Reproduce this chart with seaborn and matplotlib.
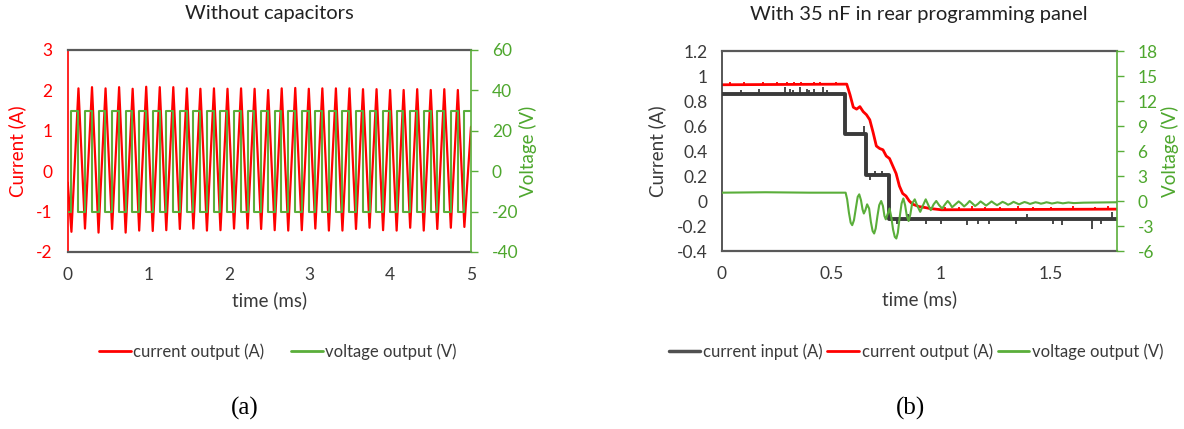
import numpy as np
import pandas as pd
import matplotlib
matplotlib.use("Agg")
import matplotlib.pyplot as plt
from matplotlib.lines import Line2D
from matplotlib.ticker import FuncFormatter
import seaborn as sns

sns.set_style("white")
plt.rcParams['font.family'] = ['Lato', 'DejaVu Sans']
plt.rcParams['axes.unicode_minus'] = False

RED = "#FF0000"
GREEN = "#4EA72E"
GREEN_LINE = "#5AAE3A"
DARK = "#3A3A3A"
FRAME = "#595959"

# ---------------- (a) without capacitors ----------------
# square-wave voltage edges (ms)
v_rise = [0.046, 0.214, 0.382, 0.550, 0.718, 0.886, 1.054, 1.222, 1.390, 1.558,
          1.726, 1.894, 2.062, 2.230, 2.398, 2.566, 2.734, 2.902, 3.070, 3.238,
          3.406, 3.574, 3.742, 3.910, 4.078, 4.246, 4.414, 4.582, 4.750, 4.918]
v_fall = [0.130, 0.298, 0.466, 0.634, 0.802, 0.970, 1.138, 1.306, 1.474, 1.642,
          1.810, 1.978, 2.146, 2.314, 2.482, 2.650, 2.818, 2.986, 3.154, 3.322,
          3.490, 3.658, 3.826, 3.994, 4.162, 4.330, 4.498, 4.666, 4.834]
v_high = 30
v_low = -20

# current output: troughs near rising edges, peaks near falling edges
i_trough = [-1.50, -1.42, -1.52, -1.43, -1.52, -1.47, -1.48, -1.46, -1.43, -1.42,
            -1.47, -1.46, -1.42, -1.42, -1.43, -1.46, -1.47, -1.46, -1.42, -1.47,
            -1.47, -1.43, -1.40, -1.46, -1.47, -1.40, -1.47, -1.43, -1.40, -1.38]
i_peak = [2.05, 2.08, 2.05, 2.08, 2.04, 2.09, 2.08, 2.08, 2.05, 2.04,
          2.05, 2.04, 2.05, 2.04, 2.01, 2.05, 2.06, 2.04, 2.05, 2.05,
          2.05, 2.03, 2.03, 2.01, 2.01, 2.03, 2.01, 2.03, 2.01]
i_start = -0.28
i_end = 1.10
t_end_a = 5.0

# ---------------- (b) with 35 nF ----------------
inp_t = [0.000, 0.564, 0.660, 0.762, 1.800]
inp_v = [0.855, 0.535, 0.210, -0.140, -0.140]
inp_spk_t = [0.09, 0.17, 0.29, 0.31, 0.325, 0.355, 0.39, 0.40, 0.42, 0.46, 0.48,
             0.65, 0.675, 0.70, 0.73,
             0.80, 0.85, 0.93, 1.00, 1.12, 1.17, 1.22, 1.34, 1.39, 1.51, 1.55,
             1.69, 1.73, 1.78]
inp_spk_v = [0.89, 0.90, 0.91, 0.90, 0.89, 0.91, 0.90, 0.89, 0.90, 0.91, 0.89,
             0.60, 0.17, 0.24, 0.24,
             -0.18, -0.10, -0.18, -0.18, -0.19, -0.18, -0.18, -0.18, -0.10, -0.18,
             -0.19, -0.22, -0.18, -0.09]

out_t = [0.00, 0.57, 0.585, 0.60, 0.615, 0.63, 0.645, 0.66, 0.675, 0.69, 0.705,
         0.72, 0.735, 0.75, 0.765, 0.78, 0.795, 0.81, 0.825, 0.84, 0.855, 0.87,
         0.885, 0.90, 0.92, 0.95, 1.00, 1.80]
out_v = [0.93, 0.935, 0.85, 0.75, 0.735, 0.755, 0.715, 0.69, 0.65, 0.55, 0.44,
         0.42, 0.41, 0.36, 0.34, 0.28, 0.22, 0.12, 0.06, 0.04, 0.0, -0.025,
         -0.035, -0.045, -0.05, -0.06, -0.07, -0.065]
out_spk_t = [0.04, 0.10, 0.19, 0.25, 0.30, 0.33, 0.36, 0.42, 0.45, 0.52,
             1.02, 1.08, 1.14, 1.20, 1.27, 1.35, 1.42, 1.50, 1.60, 1.70, 1.76]
out_spk_v = [0.95, 0.95, 0.955, 0.95, 0.955, 0.95, 0.955, 0.95, 0.955, 0.95,
             -0.045, -0.045, -0.04, -0.045, -0.045, -0.04, -0.045, -0.045, -0.04,
             -0.045, -0.04]

volt_t = [0.000, 0.200, 0.400, 0.565, 0.572, 0.580, 0.588, 0.595, 0.603, 0.612,
          0.620, 0.627, 0.635, 0.642, 0.648, 0.655, 0.663, 0.672, 0.680, 0.688,
          0.695, 0.702, 0.710, 0.718, 0.727, 0.735, 0.742, 0.748, 0.756, 0.765,
          0.773, 0.781, 0.789, 0.796, 0.803, 0.811, 0.820, 0.828, 0.836, 0.844,
          0.852, 0.860, 0.868, 0.880, 0.892, 0.905, 0.918, 0.930, 0.942, 0.953,
          0.966, 0.978, 0.991, 1.005, 1.018, 1.030, 1.040, 1.050, 1.065, 1.080,
          1.092, 1.105, 1.118, 1.130, 1.143, 1.155, 1.168, 1.180, 1.193, 1.205,
          1.218, 1.230, 1.243, 1.255, 1.268, 1.280, 1.293, 1.305, 1.318, 1.330,
          1.343, 1.355, 1.368, 1.380, 1.393, 1.405, 1.418, 1.430, 1.443, 1.455,
          1.468, 1.480, 1.493, 1.505, 1.518, 1.530, 1.543, 1.555, 1.580, 1.605,
          1.650, 1.800]
volt_v = [1.00, 1.05, 1.00, 1.00, 0.20, -1.40, -2.60, -2.90, -2.30, -0.80,
          0.50, 0.80, 0.10, -1.00, -1.50, -1.10, -0.40, -0.90, -2.50, -3.60,
          -3.90, -3.30, -1.80, -0.50, 0.00, -0.60, -1.80, -2.20, -1.60, -0.90,
          -1.90, -3.40, -4.30, -4.50, -3.80, -2.00, -0.30, 0.30, -0.50, -1.80,
          -2.40, -1.60, -0.30, 0.20, -0.60, -1.30, -0.50, 0.20, -0.50, -1.10,
          -0.40, 0.00, -0.50, -0.90, -0.40, 0.00, -0.30, -0.75, -0.40, -0.05,
          -0.30, -0.65, -0.35, 0.00, -0.30, -0.60, -0.35, -0.05, -0.30, -0.55,
          -0.30, -0.05, -0.30, -0.50, -0.30, -0.10, -0.25, -0.45, -0.30, -0.10,
          -0.25, -0.40, -0.25, -0.12, -0.22, -0.35, -0.25, -0.15, -0.22, -0.32,
          -0.25, -0.15, -0.22, -0.30, -0.24, -0.17, -0.22, -0.28, -0.18, -0.25,
          -0.20, -0.15]


def excel_fmt(v, pos):
    v = round(v, 6)
    if v == 0:
        return "0"
    return f"{v:g}"


def style_axes(ax, ax2, left_col, ylab_col, ytick_col, ypad, cur_x, volt_x):
    for s in ["top", "bottom"]:
        ax.spines[s].set_color(FRAME)
        ax.spines[s].set_linewidth(1.6)
    ax.spines["left"].set_color(left_col)
    ax.spines["left"].set_linewidth(1.2)
    ax.spines["right"].set_visible(False)
    for s in ["top", "bottom", "left"]:
        ax2.spines[s].set_visible(False)
    ax2.spines["right"].set_color(GREEN_LINE)
    ax2.spines["right"].set_linewidth(1.2)
    ax.tick_params(axis="y", length=0, pad=ypad, labelsize=12.5, labelcolor=ytick_col)
    ax.tick_params(axis="x", length=0, pad=11, labelsize=12.5, labelcolor=DARK)
    ax2.tick_params(axis="y", length=5, width=1, color=GREEN_LINE, pad=10,
                    labelsize=12.5, labelcolor=GREEN, right=True, left=False)
    ax.yaxis.set_major_formatter(FuncFormatter(excel_fmt))
    ax.xaxis.set_major_formatter(FuncFormatter(excel_fmt))
    ax2.yaxis.set_major_formatter(FuncFormatter(excel_fmt))
    ax.set_xlabel("time (ms)", fontsize=13.5, color=DARK, labelpad=6)
    ax.set_ylabel("Current (A)", fontsize=13.5, color=ylab_col)
    ax2.set_ylabel("Voltage (V)", fontsize=13.5, color=GREEN)
    ax.yaxis.set_label_coords(cur_x, 0.5)
    ax2.yaxis.set_label_coords(volt_x, 0.5)
    ax.grid(False)
    ax2.grid(False)
    for a in (ax, ax2):
        if a.get_legend() is not None:
            a.get_legend().remove()


fig = plt.figure(figsize=(11.84, 4.29), dpi=100)

# ---- panel (a)
axa = fig.add_axes([0.0572, 0.4126, 0.3406, 0.4709])
axa2 = axa.twinx()

cur_t = [0.0]
cur_v = [i_start]
for k in range(len(v_rise)):
    cur_t.append(v_rise[k])
    cur_v.append(i_trough[k])
    if k < len(v_fall):
        cur_t.append(v_fall[k] + 0.003)
        cur_v.append(i_peak[k])
cur_t.append(t_end_a)
cur_v.append(i_end)
df_ca = pd.DataFrame({"t": cur_t, "i": cur_v})

sq_t = [0.0]
sq_v = [v_low]
for k in range(len(v_rise)):
    sq_t.append(v_rise[k])
    sq_v.append(v_high)
    if k < len(v_fall):
        sq_t.append(v_fall[k])
        sq_v.append(v_low)
sq_t.append(t_end_a)
sq_v.append(v_high)
df_va = pd.DataFrame({"t": sq_t, "v": sq_v})

sns.lineplot(data=df_ca, x="t", y="i", ax=axa, color=RED, lw=1.6,
             estimator=None, sort=False)
sns.lineplot(data=df_va, x="t", y="v", ax=axa2, color=GREEN_LINE, lw=1.5,
             estimator=None, sort=False, drawstyle="steps-post")
axa.set_xlim(0, 5)
axa.set_ylim(-2, 3)
axa.set_yticks(np.arange(-2, 3.01, 1))
axa.set_xticks(np.arange(0, 5.01, 1))
axa2.set_ylim(-40, 60)
axa2.set_yticks(np.arange(-40, 60.01, 20))
style_axes(axa, axa2, RED, RED, RED, 11, -0.103, 1.118)
axa.set_title("Without capacitors", fontsize=14.5, color="#222222", pad=22)

# ---- panel (b)
axb = fig.add_axes([0.6095, 0.4149, 0.3336, 0.4662])
axb2 = axb.twinx()

df_in = pd.DataFrame({"t": inp_t, "i": inp_v})
df_out = pd.DataFrame({"t": out_t, "i": out_v})
df_vb = pd.DataFrame({"t": volt_t, "v": volt_v})

sns.lineplot(data=df_in, x="t", y="i", ax=axb, color=DARK, lw=2.8,
             estimator=None, sort=False, drawstyle="steps-post")
axb.vlines(inp_spk_t, [inp_v[np.searchsorted(inp_t, t, side="right") - 1] for t in inp_spk_t],
           inp_spk_v, color=DARK, lw=1.3)
sns.lineplot(data=df_out, x="t", y="i", ax=axb, color=RED, lw=2.0,
             estimator=None, sort=False)
axb.vlines(out_spk_t, np.interp(out_spk_t, out_t, out_v), out_spk_v,
           color=RED, lw=1.3)
sns.lineplot(data=df_vb, x="t", y="v", ax=axb2, color=GREEN_LINE, lw=1.5,
             estimator=None, sort=False)
axb.set_xlim(0, 1.8)
axb.set_xticks([0, 0.5, 1, 1.5])
axb.set_ylim(-0.4, 1.2)
axb.set_yticks(np.round(np.arange(-0.4, 1.201, 0.2), 1))
axb2.set_ylim(-6, 18)
axb2.set_yticks(np.arange(-6, 18.01, 3))
style_axes(axb, axb2, DARK, DARK, DARK, 10, -0.141, 1.112)
axb.set_title("With 35 nF in rear programming panel", fontsize=14.5,
              color="#222222", pad=22)

# ---- legends below the panels
h_red = Line2D([], [], color=RED, lw=2)
h_grn = Line2D([], [], color=GREEN_LINE, lw=2)
h_drk = Line2D([], [], color="#505050", lw=2.5)
fig.legend([h_red, h_grn], ["current output (A)", "voltage output (V)"],
           loc="center", bbox_to_anchor=(0.2348, 0.1795), ncol=2, frameon=False,
           fontsize=12, handlelength=1.9, handletextpad=0.15, columnspacing=1.6,
           labelcolor=DARK)
fig.legend([h_drk, h_red, h_grn],
           ["current input (A)", "current output (A)", "voltage output (V)"],
           loc="center", bbox_to_anchor=(0.7736, 0.1795), ncol=3, frameon=False,
           fontsize=12, handlelength=1.9, handletextpad=0.15, columnspacing=0.3,
           labelcolor=DARK)

fig.text(0.207, 0.049, "(a)", ha="center", va="center", fontsize=18,
         family="Liberation Serif", color="black")
fig.text(0.769, 0.049, "(b)", ha="center", va="center", fontsize=18,
         family="Liberation Serif", color="black")

fig.savefig("out.png", dpi=100)
